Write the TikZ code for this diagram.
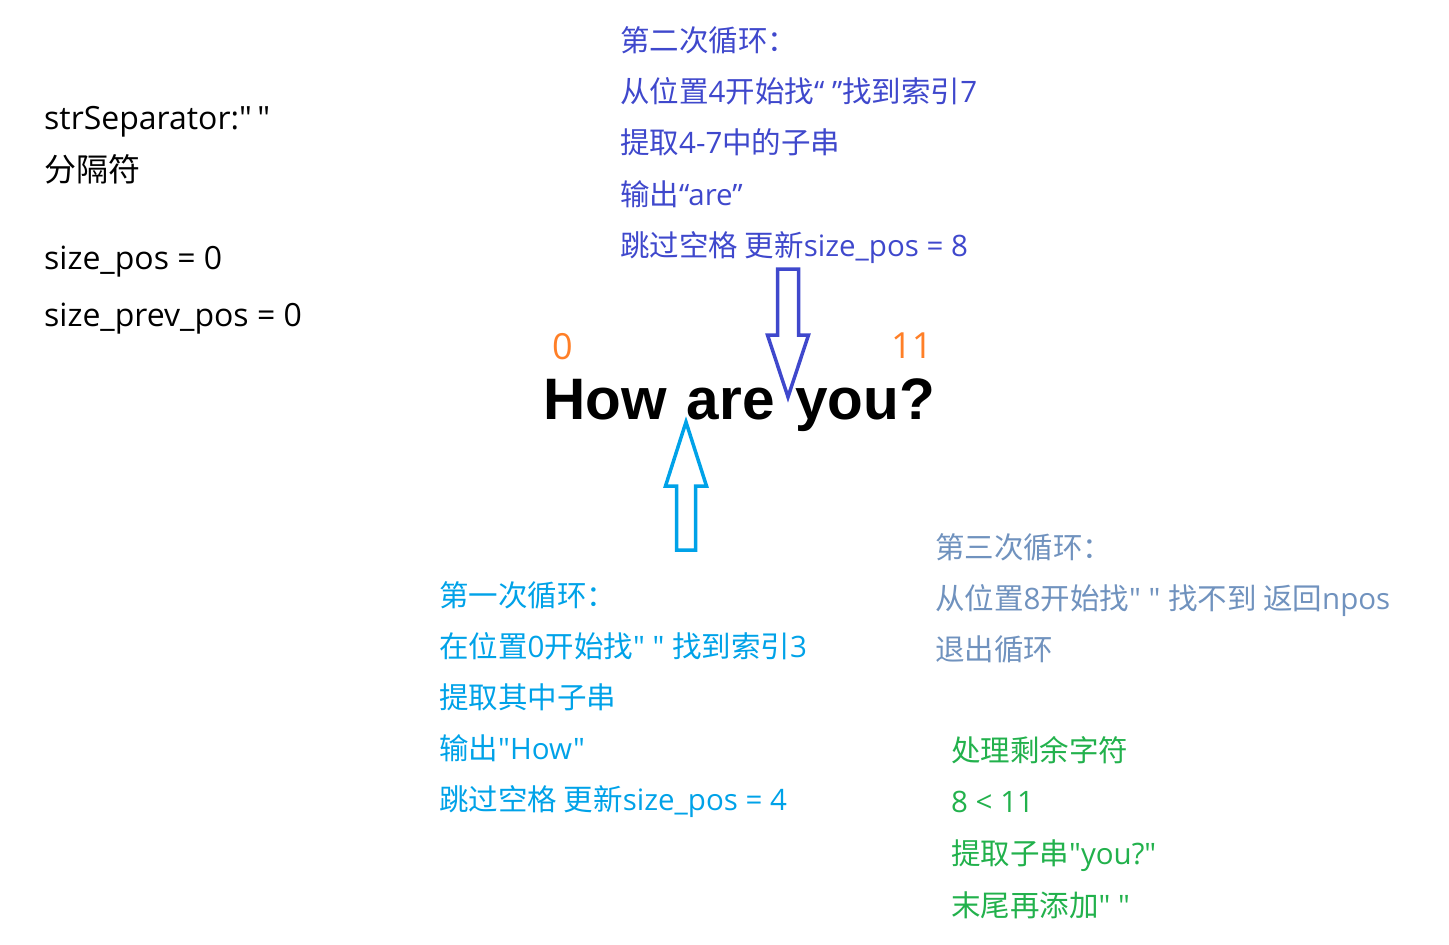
\documentclass[tikz,border=0pt]{standalone}
\usepackage{fontspec}
\setmainfont{Open Sans}[Ligatures=TeXOff]
\newfontfamily\cjk{Noto Sans CJK SC}[Ligatures=TeXOff]
\newfontfamily\wordfont{Liberation Sans}[WordSpace=1.25]
\usepackage{tikz}
\usetikzlibrary{positioning}
\newcommand{\zh}[1]{{\cjk #1}}
\definecolor{loopblue}{HTML}{3F48CC}
\definecolor{loopcyan}{HTML}{00A2E8}
\definecolor{loopgray}{HTML}{7092BE}
\definecolor{restgreen}{HTML}{22B14C}
\definecolor{idxorange}{HTML}{FF7F27}

\begin{document}
\begin{tikzpicture}[x=1pt, y=-1pt,
    every node/.style={inner sep=0pt, anchor=base west},
    plain/.style={text=black, font=\fontsize{32}{32}\selectfont},
    looptwo/.style={text=loopblue, font=\fontsize{29.5}{29.5}\selectfont},
    loopone/.style={text=loopcyan, font=\fontsize{29.5}{29.5}\selectfont},
    loopthree/.style={text=loopgray, font=\fontsize{29.5}{29.5}\selectfont},
    rest/.style={text=restgreen, font=\fontsize{29.5}{29.5}\selectfont},
    index/.style={text=idxorange, font=\fontsize{36}{36}\selectfont},
    word/.style={font=\wordfont\bfseries\fontsize{58.5}{58.5}\selectfont},
    hollow/.style={draw, line width=3.5pt, line join=miter}]
    \useasboundingbox (0,0) rectangle (1449,945);

    % variables on the left
    \node[plain] (sep)  at (44,129) {strSeparator:"\,"};
    \node[plain] (sepzh) at (44,181) {\zh{分隔符}};
    \node[plain] (pos)  at (44,269) {size\_pos = 0};
    \node[plain] (prev) at (44,326) {size\_prev\_pos = 0};

    % the string and its indices
    \node[word] (str) at (543,419) {How are you?};
    \node[index] (first) at (552,359) {0};
    \node[index] (last) at (891,358) {11};

    % second loop (top)
    \foreach \t [count=\i] in {%
        {\zh{第二次循环：}},
        {\zh{从位置}4\zh{开始找}“ ”\zh{找到索引}7},
        {\zh{提取}4-7\zh{中的子串}},
        {\zh{输出}“are”},
        {\zh{跳过空格 更新}size\_pos = 8}}
      \node[looptwo] (two-\i) at (620,51+51.4*\i-51.4) {\t};

    % first loop (bottom)
    \foreach \t [count=\i] in {%
        {\zh{第一次循环：}},
        {\zh{在位置}0\zh{开始找}" " \zh{找到索引}3},
        {\zh{提取其中子串}},
        {\zh{输出}"How"},
        {\zh{跳过空格 更新}size\_pos = 4}}
      \node[loopone] (one-\i) at (439,606.5+51*\i-51) {\t};

    % third loop
    \foreach \t [count=\i] in {%
        {\zh{第三次循环：}},
        {\zh{从位置}8\zh{开始找}" " \zh{找不到 返回}npos},
        {\zh{退出循环}}}
      \node[loopthree] (three-\i) at (935,558.5+51*\i-51) {\t};

    % remaining characters
    \foreach \t [count=\i] in {%
        {\zh{处理剩余字符}},
        {8 < 11},
        {\zh{提取子串}"you?"},
        {\zh{末尾再添加}" "}}
      \node[rest] (rest-\i) at (951,761+51.7*\i-51.7) {\t};

    % hollow arrows
    \draw[hollow, loopblue] (777.5,269) -- (798.5,269) -- (798.5,335) -- (808.5,335)
      -- (788,397) -- (767.5,335) -- (777.5,335) -- cycle;
    \draw[hollow, loopcyan] (676.5,550) -- (695.5,550) -- (695.5,486) -- (706.5,486)
      -- (686,422) -- (665.5,486) -- (676.5,486) -- cycle;
\end{tikzpicture}
\end{document}
